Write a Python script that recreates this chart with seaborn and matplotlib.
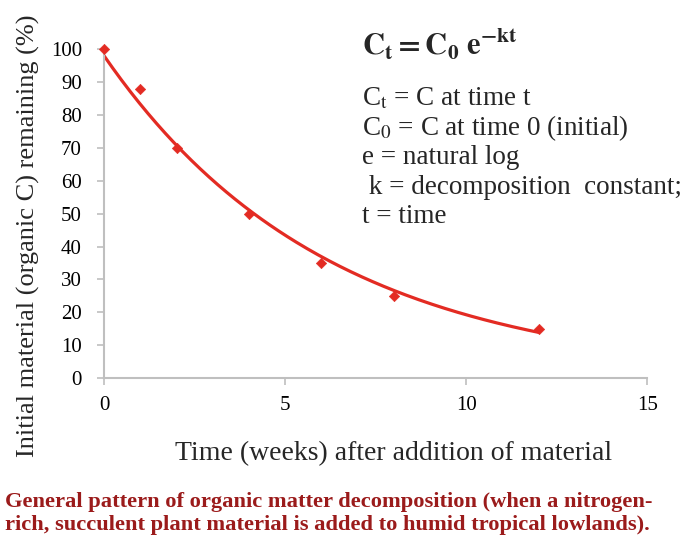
import numpy as np
import pandas as pd
import matplotlib
matplotlib.use("Agg")
import matplotlib.pyplot as plt
import seaborn as sns

weeks = [0, 1, 2, 4, 6, 8, 12]
remaining = [100, 88, 70, 50, 35, 25, 15]
x_ticks = [0, 5, 10, 15]
y_ticks = [0, 10, 20, 30, 40, 50, 60, 70, 80, 90, 100]

sns.set_theme(style="white")
plt.rcParams['font.family'] = ['Liberation Serif', 'DejaVu Serif']
plt.rcParams['mathtext.fontset'] = 'stix'

df = pd.DataFrame({"weeks": weeks, "remaining": remaining})

# exponential fit (log-linear least squares on the data)
b, a = np.polyfit(df["weeks"], np.log(df["remaining"]), 1)
t_fit = np.linspace(min(weeks), max(weeks), 200)
fit = pd.DataFrame({"weeks": t_fit, "remaining": np.exp(a + b * t_fit)})

red = "#e32b23"
fig = plt.figure(figsize=(6.85, 5.45), dpi=100)
ax = fig.add_axes([0.152, 0.306, 0.793, 0.604])

sns.lineplot(data=fit, x="weeks", y="remaining", ax=ax, color=red, lw=2.3)
sns.scatterplot(data=df, x="weeks", y="remaining", ax=ax, color=red, marker="D",
                s=28, edgecolor=red, zorder=5, clip_on=False)

ax.set_xlim(0, 15)
ax.set_ylim(0, 100)
ax.set_xticks(x_ticks)
ax.set_yticks(y_ticks)
ax.tick_params(axis='both', labelsize=15, colors='#bfbfbf', labelcolor='black',
               length=5, width=1.2, direction='out', left=True, bottom=True)
ax.tick_params(axis='y', pad=11)
ax.tick_params(axis='x', pad=8)
for s in ['top', 'right']:
    ax.spines[s].set_visible(False)
for s in ['left', 'bottom']:
    ax.spines[s].set_color('#bfbfbf')
    ax.spines[s].set_linewidth(1.5)
ax.set_xlabel("Time (weeks) after addition of material", fontsize=20)
ax.xaxis.set_label_coords(0.532, -0.19)
ax.set_ylabel("Initial material (organic C) remaining (%)", fontsize=19)
ax.yaxis.set_label_coords(-0.118, 0.432)

fig.text(0.528, 0.918, r'$\mathbf{C_t = C_0\ e^{-kt}}$', fontsize=22, ha='left', va='center')
lines = [r'C$_\mathrm{t}$ = C at time t',
         r'C$_\mathrm{0}$ = C at time 0 (initial)',
         'e = natural log',
         ' k = decomposition  constant;',
         't = time']
for i, t in enumerate(lines):
    fig.text(0.528, 0.82 - i * 0.0545, t, fontsize=19.5, ha='left', va='center')

cap_color = "#9b1b1b"
fig.text(0.008, 0.078, "General pattern of organic matter decomposition (when a nitrogen-",
         fontsize=16.2, fontweight='bold', color=cap_color, ha='left', va='center')
fig.text(0.008, 0.037, "rich, succulent plant material is added to humid tropical lowlands).",
         fontsize=16.2, fontweight='bold', color=cap_color, ha='left', va='center')

fig.savefig("out.png", dpi=100)
